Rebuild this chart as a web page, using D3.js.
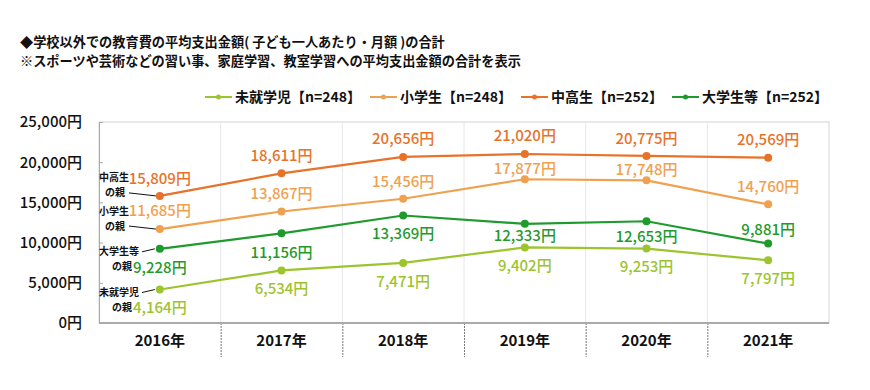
<!DOCTYPE html>
<html><head><meta charset="utf-8">
<script src="https://cdn.jsdelivr.net/npm/d3@7"></script>
<style>
body{margin:0;background:#fff;}
svg{display:block;font-family:"Noto Sans CJK JP","Noto Sans",sans-serif;}
</style></head><body>
<svg id="c" width="870" height="390"></svg>
<script>
const years = ["2016年","2017年","2018年","2019年","2020年","2021年"];
const seriesNames = ["未就学児【n=248】","小学生【n=248】","中高生【n=252】","大学生等【n=252】"];
const preschool = [4164, 6534, 7471, 9402, 9253, 7797];
const elementary = [11685, 13867, 15456, 17877, 17748, 14760];
const secondary = [15809, 18611, 20656, 21020, 20775, 20569];
const university = [9228, 11156, 13369, 12333, 12653, 9881];
const yTicks = [0, 5000, 10000, 15000, 20000, 25000];
const annotations = [["中高生","の親"],["小学生","の親"],["大学生等","の親"],["未就学児","の親"]];
const titleLines = ["◆学校以外での教育費の平均支出金額( 子ども一人あたり・月額 )の合計",
  "※スポーツや芸術などの習い事、家庭学習、教室学習への平均支出金額の合計を表示"];

const colors = ["#9cc42e","#f0a14f","#e8722a","#1f9a2c"];
const values = [preschool, elementary, secondary, university];
// label vertical offsets (label centre relative to point), layout only
const labelDy = [
  [18,18,19,18,18,18],
  [-18,-18,-17,-11,-11,-18],
  [-17,-18,-18,-18,-17,-18],
  [19,19,18,12,15,-14]
];

const svg = d3.select("#c");
const L=99, R=829, T=122, B=323;
const x = d3.scaleBand().domain(years).range([L,R]);
const y = d3.scaleLinear().domain([0,25000]).range([B,T]);
const fmt = d3.format(",");
const cx = i => x(years[i]) + x.bandwidth()/2;

// titles
svg.selectAll("text.title").data(titleLines).join("text").attr("class","title")
  .attr("x",20).attr("y",(d,i)=>47+i*19)
  .attr("font-size",13.2).attr("font-weight","bold").attr("fill","#111")
  .text(d=>d);

// plot frame
svg.append("rect").attr("x",L).attr("y",T).attr("width",R-L).attr("height",B-T)
  .attr("fill","none").attr("stroke","#d4d4d4").attr("stroke-width",1);
// vertical gridlines
svg.selectAll("line.vg").data(years.slice(1)).join("line")
  .attr("x1",d=>x(d)).attr("x2",d=>x(d)).attr("y1",T).attr("y2",B)
  .attr("stroke","#e6e6e6");
// separators below axis
svg.selectAll("line.sep").data(years.slice(1)).join("line")
  .attr("x1",d=>x(d)+0.5).attr("x2",d=>x(d)+0.5).attr("y1",B).attr("y2",357)
  .attr("stroke","#777").attr("stroke-dasharray","2,1");

// y axis
const yAxis = d3.axisLeft(y).tickValues(yTicks).tickFormat(d=>fmt(d)+"円").tickSize(-4).tickPadding(17);
const ya = svg.append("g").attr("transform",`translate(${L},0)`).call(yAxis);
ya.select(".domain").attr("stroke","#aaa");
ya.selectAll(".tick line").attr("stroke","#aaa");
ya.selectAll("text").attr("font-size",15).attr("font-weight",500).attr("fill","#111")
  .attr("font-family","'Noto Sans CJK JP',sans-serif");

// bottom axis line
svg.append("line").attr("x1",L).attr("x2",R).attr("y1",B).attr("y2",B)
  .attr("stroke","#aaa").attr("stroke-width",2);

// x labels
const xAxis = d3.axisBottom(x).tickSize(0).tickPadding(12);
const xa = svg.append("g").attr("transform",`translate(0,${B})`).call(xAxis);
xa.select(".domain").remove();
xa.selectAll("text").attr("font-size",15).attr("font-weight","bold").attr("fill","#111")
  .attr("font-family","'Noto Sans CJK JP',sans-serif");

// lines
const line = d3.line().x((d,i)=>cx(i)).y(d=>y(d));
values.forEach((vals,s)=>{
  svg.append("path").datum(vals).attr("d",line).attr("fill","none")
    .attr("stroke",colors[s]).attr("stroke-width",2.2);
  svg.selectAll(null).data(vals).join("circle")
    .attr("cx",(d,i)=>cx(i)).attr("cy",d=>y(d)).attr("r",4)
    .attr("fill",colors[s]);
  svg.selectAll(null).data(vals).join("text")
    .attr("x",(d,i)=>cx(i))
    .attr("y",(d,i)=>y(d)+labelDy[s][i])
    .attr("dy","0.36em")
    .attr("text-anchor","middle").attr("font-size",15).attr("font-weight",500)
    .attr("fill",colors[s]).text(d=>fmt(d)+"円");
});

// annotations for the 2016 points
const annSeries = [2,1,3,0];
annotations.forEach((a,k)=>{
  const s = annSeries[k];
  const py = y(values[s][0]);
  const px = cx(0);
  const above = k<2;
  const ty = above ? py-18 : py+3;
  const g = svg.append("g").attr("font-size",10).attr("font-weight","bold").attr("fill","#111");
  g.append("text").attr("x",99).attr("y",ty).attr("dy","0.36em").text(a[0]);
  g.append("text").attr("x",above?105:112).attr("y",ty+15).attr("dy","0.36em").text(a[1]);
  if(above){
    g.append("line").attr("x1",129).attr("y1",py-3).attr("x2",px-4).attr("y2",py)
      .attr("stroke","#111").attr("stroke-width",1);
  } else {
    g.append("line").attr("x1",142).attr("y1",py+3).attr("x2",px-5).attr("y2",py)
      .attr("stroke","#111").attr("stroke-width",1);
  }
});

// legend
let lx = 205;
seriesNames.forEach((n,s)=>{
  const g = svg.append("g");
  g.append("line").attr("x1",lx).attr("x2",lx+27).attr("y1",97).attr("y2",97)
    .attr("stroke",colors[s]).attr("stroke-width",2);
  g.append("circle").attr("cx",lx+13.5).attr("cy",97).attr("r",2.5).attr("fill",colors[s]);
  const t = g.append("text").attr("x",lx+30).attr("y",102).attr("font-size",14).attr("font-weight","bold")
    .attr("fill","#111").text(n);
  lx += 30 + t.node().getComputedTextLength() + 9;
});
</script>
</body></html>
